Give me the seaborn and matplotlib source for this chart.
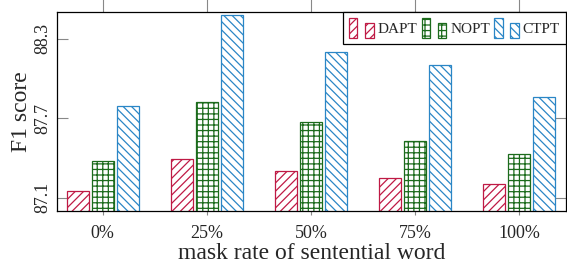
import pandas as pd
import matplotlib
matplotlib.use('Agg')
import matplotlib.pyplot as plt
import seaborn as sns
from matplotlib.patches import Patch, Rectangle
from matplotlib.legend_handler import HandlerBase

# datos
rates = ['0%', '25%', '50%', '75%', '100%']
models = ['DAPT', 'NOPT', 'CTPT']
dapt = [87.15, 87.39, 87.30, 87.25, 87.20]
nopt = [87.38, 87.82, 87.67, 87.53, 87.43]
ctpt = [87.79, 88.48, 88.20, 88.10, 87.86]
yticks = [87.1, 87.7, 88.3]

colors = {'DAPT': '#bf1a45', 'NOPT': '#1c6b1c', 'CTPT': '#2a86c6'}
hatches = {'DAPT': '////', 'NOPT': '+++', 'CTPT': '\\\\\\\\'}

df = pd.DataFrame({
    'rate': rates * 3,
    'model': [m for m in models for _ in rates],
    'f1': dapt + nopt + ctpt,
})

sns.set_style('ticks')
plt.rcParams['font.family'] = ['Liberation Serif', 'DejaVu Serif']
plt.rcParams['hatch.linewidth'] = 0.9


class TwoBars(HandlerBase):
    # imagen de leyenda estilo pgfplots: dos barritas
    def create_artists(self, legend, orig_handle, xdescent, ydescent,
                       width, height, fontsize, trans):
        bw = width * 0.34
        out = []
        for x0, h in [(0, height), (width - bw, height * 0.75)]:
            r = Rectangle((x0 - xdescent, -ydescent), bw, h,
                          facecolor='white', edgecolor=orig_handle.get_edgecolor(),
                          hatch=orig_handle.get_hatch(), linewidth=0.9,
                          transform=trans)
            out.append(r)
        return out


fig = plt.figure(figsize=(5.67, 2.64), dpi=100)
ax = fig.add_axes([0.1005, 0.2008, 0.8975, 0.7537])

sns.barplot(data=df, x='rate', y='f1', hue='model', palette=colors,
            width=0.72, gap=0.12, ax=ax, legend=False)

for cont, m in zip(ax.containers, models):
    for bar in cont:
        bar.set_facecolor('white')
        bar.set_edgecolor(colors[m])
        bar.set_hatch(hatches[m])
        bar.set_linewidth(0.9)
        bar.set_zorder(3)

ax.set_ylim(87.0, 88.5)
ax.set_xlim(-0.44, 4.45)
ax.set_yticks(yticks)
ax.set_yticklabels([f'{v:.1f}' for v in yticks], rotation=90, va='center')

for s in ax.spines.values():
    s.set_visible(True)
    s.set_color('black')
    s.set_linewidth(0.9)
    s.set_zorder(4)

ax.tick_params(axis='y', which='both', direction='in', length=8, width=0.8,
               color='#888888', left=True, right=True, labelsize=13, pad=4)
ax.tick_params(axis='x', which='both', direction='out', length=3, width=0.8,
               color='#888888', bottom=True, top=False, labelsize=13, pad=7)

# marcas superiores hacia afuera
top = ax.secondary_xaxis('top')
top.set_xticks(range(len(rates)))
top.tick_params(direction='out', length=12, width=0.8, color='#888888', labeltop=False)
top.spines['top'].set_visible(False)

ax.set_xlabel('mask rate of sentential word', fontsize=17, labelpad=1)
ax.set_ylabel('F1 score', fontsize=17, labelpad=2)

handles = [Patch(facecolor='white', edgecolor=colors[m], hatch=hatches[m], label=m)
           for m in models]
leg = ax.legend(handles=handles, handler_map={Patch: TwoBars()}, ncol=3,
                loc='upper right', bbox_to_anchor=(1.0, 1.0), borderaxespad=0,
                fontsize=11, handlelength=1.6, handleheight=1.6,
                handletextpad=0.25, columnspacing=0.3, borderpad=0.4,
                fancybox=False, framealpha=1, edgecolor='black')
leg.get_frame().set_linewidth(0.9)
leg.set_zorder(5)

fig.savefig('out.png', dpi=100)
